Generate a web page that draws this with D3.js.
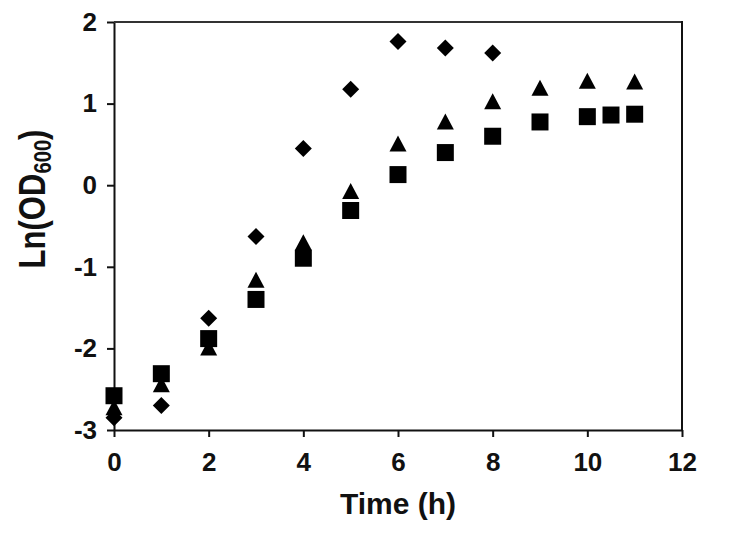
<!DOCTYPE html>
<html>
<head>
<meta charset="utf-8">
<script src="https://cdn.jsdelivr.net/npm/d3@7.9.0/dist/d3.min.js"></script>
<style>
  html, body { margin: 0; padding: 0; background: #fff; }
  svg text { font-family: "Liberation Sans", Arial, sans-serif; font-weight: bold; fill: #111; }
</style>
</head>
<body>
<svg id="chart" width="747" height="546"></svg>
<script>
// ---- data ----
const diamondTime = [0, 1, 2, 3, 4, 5, 6, 7, 8];
const diamondLn   = [-2.85, -2.70, -1.63, -0.63, 0.45, 1.175, 1.76, 1.68, 1.62];

const triangleTime = [0, 1, 2, 3, 4, 5, 6, 7, 8, 9, 10, 11];
const triangleLn   = [-2.72, -2.44, -1.99, -1.16, -0.70, -0.07, 0.51, 0.78, 1.03, 1.195, 1.28, 1.27];

const squareTime = [0, 1, 2, 3, 4, 5, 6, 7, 8, 9, 10, 10.5, 11];
const squareLn   = [-2.58, -2.31, -1.88, -1.40, -0.895, -0.31, 0.13, 0.40, 0.60, 0.775, 0.84, 0.86, 0.87];

const xTicks = [0, 2, 4, 6, 8, 10, 12];
const yTicks = [-3, -2, -1, 0, 1, 2];

// ---- layout ----
const plotLeft = 114, plotRight = 682, plotTop = 22, plotBottom = 430;
const svg = d3.select('#chart');

const x = d3.scaleLinear().domain([0, 12]).range([plotLeft, plotRight]);
const y = d3.scaleLinear().domain([-3, 2]).range([plotBottom, plotTop]);

// marker shapes centred on their bounding box (like the spreadsheet markers)
const squareType = { draw(ctx, s) { const h = s / 2; ctx.rect(-h, -h, s, s); } };
const triangleType = { draw(ctx, s) {
  const w = s / 2, h = (s - 1) / 2;
  ctx.moveTo(0, -h); ctx.lineTo(w, h); ctx.lineTo(-w, h); ctx.closePath();
} };
const diamondType = { draw(ctx, s) {
  const h = s / 2;
  ctx.moveTo(0, -h); ctx.lineTo(h, 0); ctx.lineTo(0, h); ctx.lineTo(-h, 0); ctx.closePath();
} };

// ---- axes ----
const fmt = d => String(d);

const xAxis = svg.append('g')
  .attr('transform', `translate(0,${plotBottom})`)
  .call(d3.axisBottom(x).tickValues(xTicks).tickFormat(fmt).tickSize(7).tickSizeOuter(0).tickPadding(16));

const yAxis = svg.append('g')
  .attr('transform', `translate(${plotLeft},0)`)
  .call(d3.axisLeft(y).tickValues(yTicks).tickFormat(fmt).tickSize(7).tickSizeOuter(0).tickPadding(10));

[xAxis, yAxis].forEach(g => {
  g.select('.domain').attr('stroke', '#111').attr('stroke-width', 2);
  g.selectAll('.tick line').attr('stroke', '#111').attr('stroke-width', 2);
  g.selectAll('.tick text').attr('font-size', 26).attr('fill', '#111')
    .style('font-family', '"Liberation Sans", Arial, sans-serif').style('font-weight', 'bold');
});

// top and right frame
svg.append('line')
  .attr('x1', x(0)).attr('x2', x(12)).attr('y1', y(2)).attr('y2', y(2))
  .attr('stroke', '#333').attr('stroke-width', 2);
svg.append('line')
  .attr('x1', x(12)).attr('x2', x(12)).attr('y1', y(2) - 1).attr('y2', y(-3))
  .attr('stroke', '#111').attr('stroke-width', 2);

// ---- series ----
function drawSeries(times, vals, type, size) {
  svg.append('g')
    .selectAll('path')
    .data(times.map((t, i) => ({ t, v: vals[i] })))
    .join('path')
    .attr('transform', d => `translate(${x(d.t)},${y(d.v)})`)
    .attr('d', d3.symbol().type(type).size(size))
    .attr('fill', '#000');
}
drawSeries(triangleTime, triangleLn, triangleType, 17);
drawSeries(squareTime, squareLn, squareType, 17);
drawSeries(diamondTime, diamondLn, diamondType, 17);

// ---- axis titles ----
svg.append('text')
  .attr('x', (plotLeft + plotRight) / 2)
  .attr('y', 514)
  .attr('text-anchor', 'middle')
  .attr('font-size', 30)
  .text('Time (h)');

// y title: taller, condensed lettering
const yl = svg.append('text')
  .attr('transform', `translate(45,199) rotate(-90) scale(0.84,1)`)
  .attr('text-anchor', 'middle')
  .attr('font-size', 37);
yl.append('tspan').text('Ln(OD');
yl.append('tspan').attr('font-size', 24).attr('dy', 6).text('600');
yl.append('tspan').attr('dy', -6).text(')');
</script>
</body>
</html>
